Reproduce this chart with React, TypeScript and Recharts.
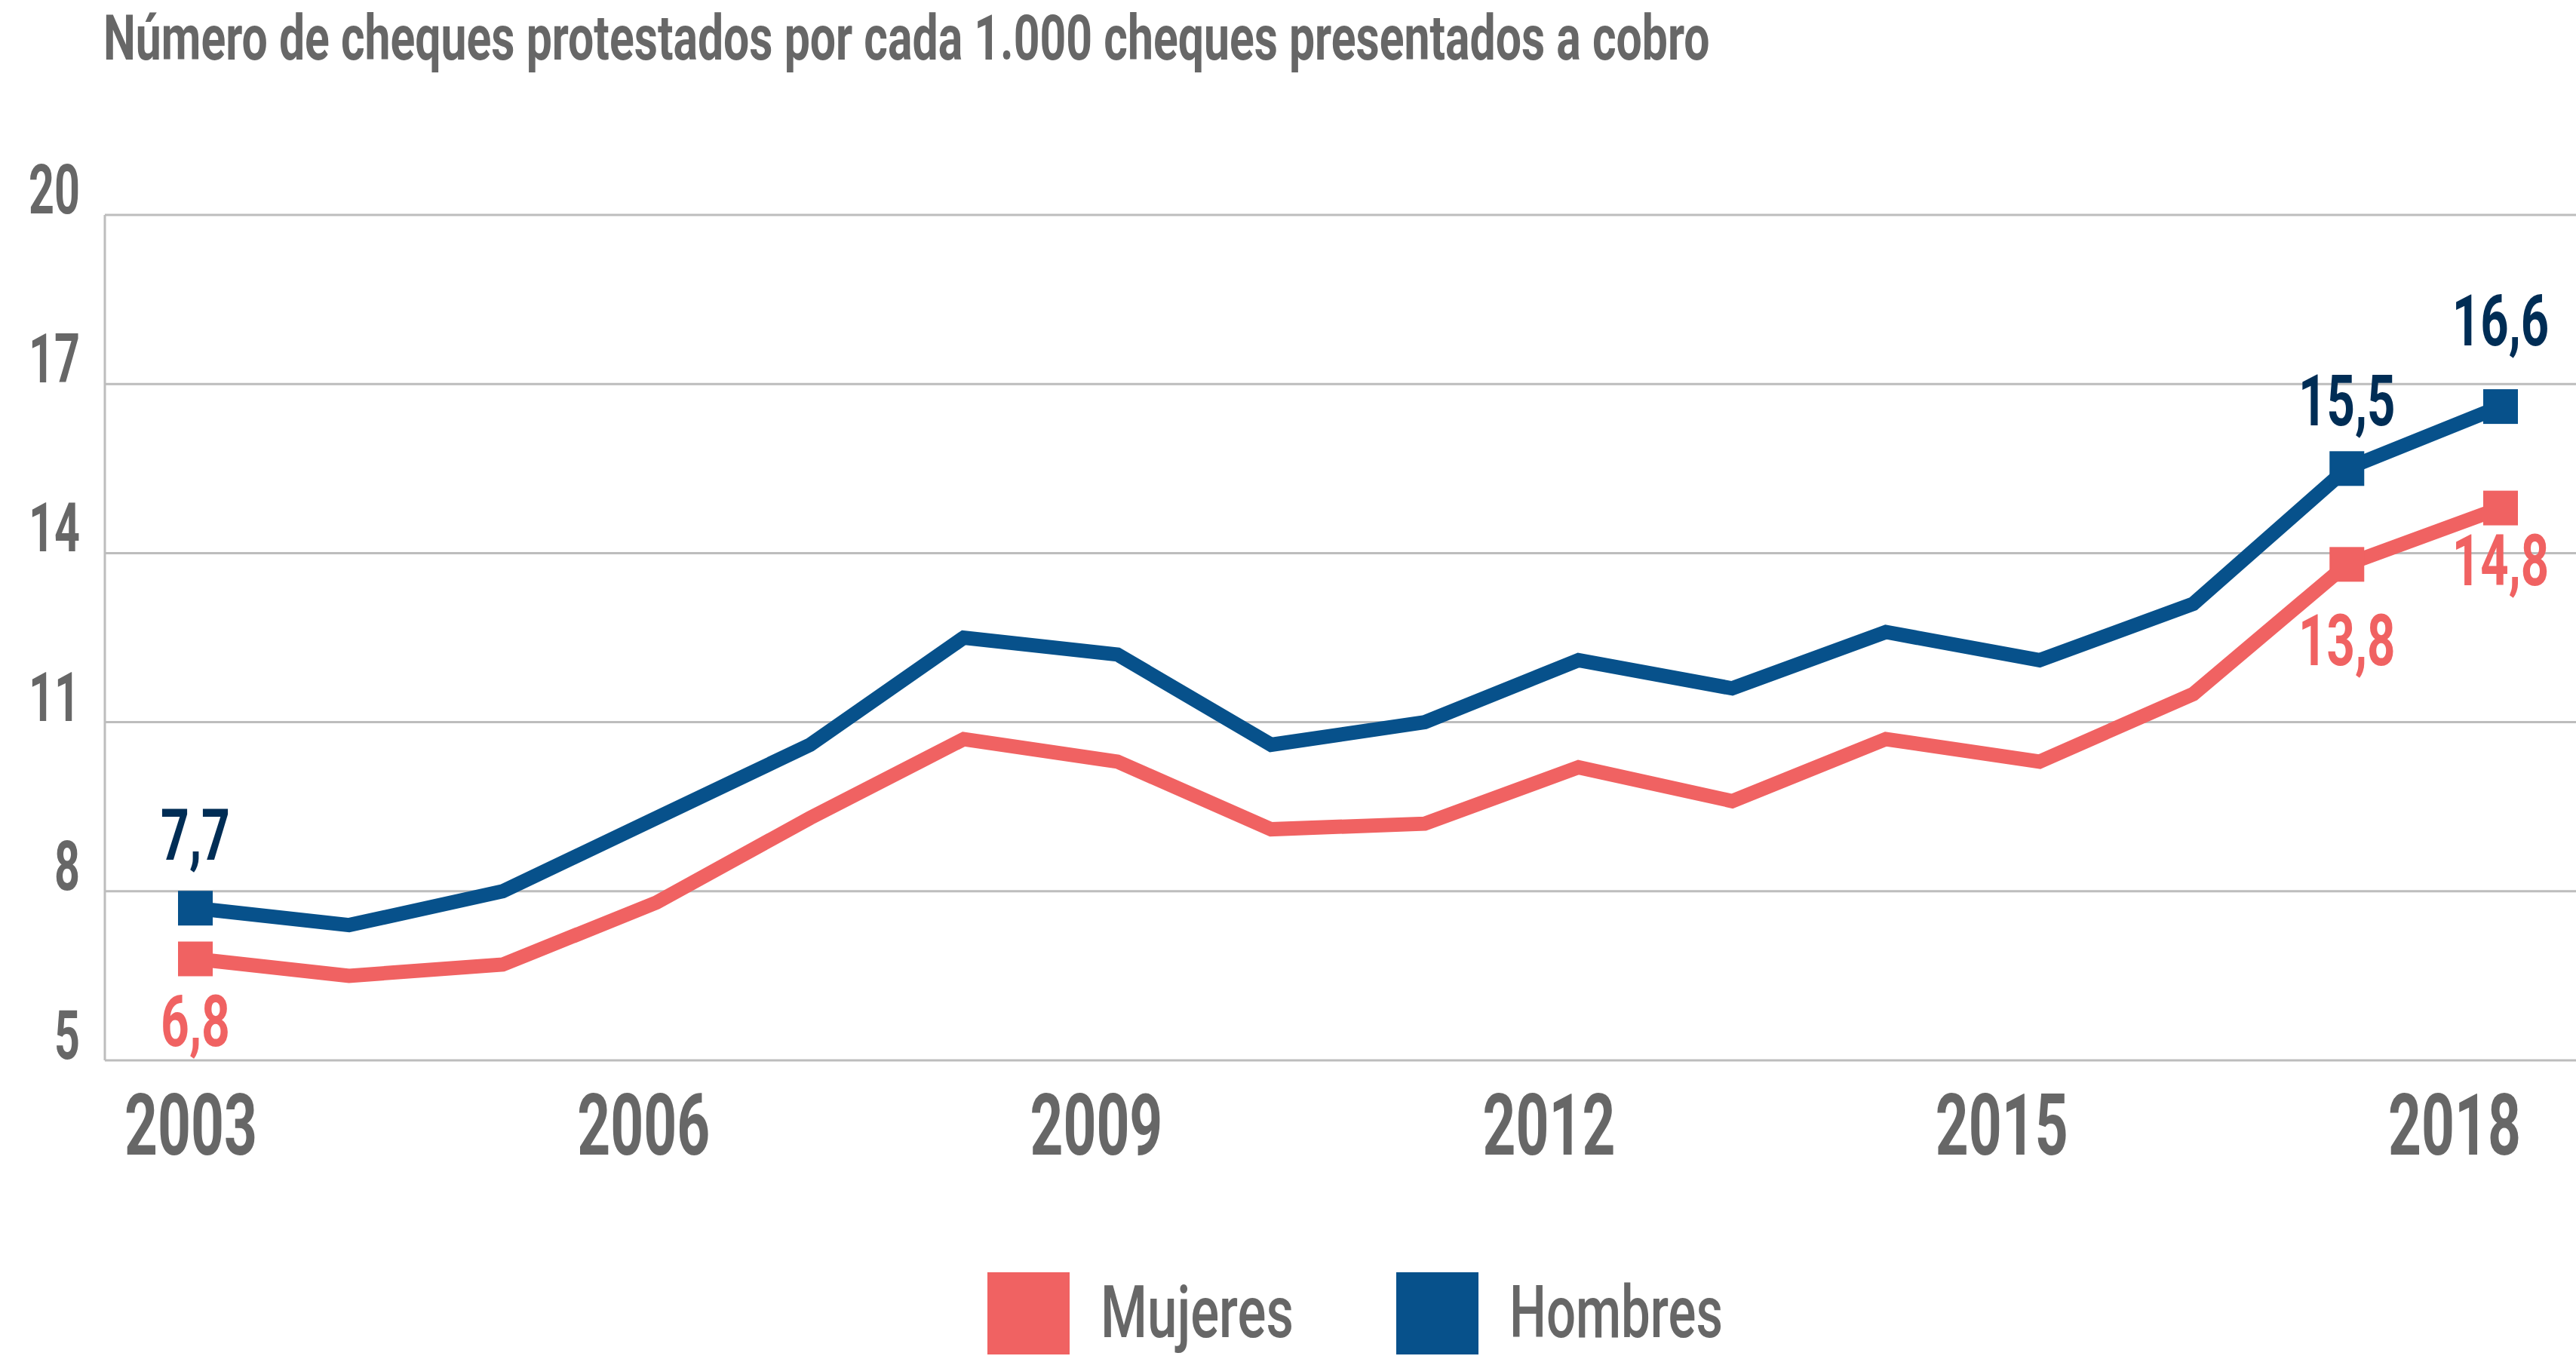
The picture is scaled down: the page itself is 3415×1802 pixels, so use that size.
import React from 'react';
import { LineChart, Line, XAxis, YAxis, CartesianGrid, LabelList, Legend } from 'recharts';

// ---------- data ----------
const years = [2003, 2004, 2005, 2006, 2007, 2008, 2009, 2010, 2011, 2012, 2013, 2014, 2015, 2016, 2017, 2018];
const mujeres = [6.8, 6.5, 6.7, 7.8, 9.3, 10.7, 10.3, 9.1, 9.2, 10.2, 9.6, 10.7, 10.3, 11.5, 13.8, 14.8];
const hombres = [7.7, 7.4, 8.0, 9.3, 10.6, 12.5, 12.2, 10.6, 11.0, 12.1, 11.6, 12.6, 12.1, 13.1, 15.5, 16.6];
const yTicks = [5, 8, 11, 14, 17, 20];
const xTicks = [2003, 2006, 2009, 2012, 2015, 2018];
const labeledYears = [2003, 2017, 2018];
const seriesNames = ['Mujeres', 'Hombres'];
const title = 'Número de cheques protestados por cada 1.000 cheques presentados a cobro';

const data = years.map((year, i) => ({ year, mujeres: mujeres[i], hombres: hombres[i] }));

// ---------- style ----------
const FONT = "Roboto, 'Noto Sans', sans-serif";
const GRAY = '#676767';
const GRID = '#bdbdbd';
const RED = '#F06262';
const BLUE = '#07518B';
const NAVY = '#002D55';
const W = 3415;
const H = 1802;

const fmt = (v: number) => v.toFixed(1).replace('.', ',');
const numLen = (s: string, digit: number, comma: number) =>
  s.split('').reduce((acc, ch) => acc + (ch === ',' || ch === '.' ? comma : digit), 0);

// measure natural text width so it can be condensed with a real transform
let measureCtx: CanvasRenderingContext2D | null = null;
const measure = (text: string, size: number, weight: number): number => {
  try {
    if (!measureCtx) measureCtx = document.createElement('canvas').getContext('2d');
    if (measureCtx) {
      measureCtx.font = `${weight} ${size}px Roboto, 'Noto Sans', sans-serif`;
      const w = measureCtx.measureText(text).width;
      if (w > 0) return w;
    }
  } catch (e) {
    // ignore
  }
  return text.length * size * 0.52;
};

type CondProps = {
  x: number;
  y: number;
  text: string;
  width: number;
  size: number;
  weight: number;
  fill: string;
  anchor?: 'start' | 'middle' | 'end';
};

const Condensed = ({ x, y, text, width, size, weight, fill, anchor = 'start' }: CondProps) => {
  const sx = width / measure(text, size, weight);
  return (
    <text
      transform={`translate(${x} ${y}) scale(${sx} 1)`}
      x={0}
      y={0}
      textAnchor={anchor}
      fill={fill}
      fontSize={size}
      fontWeight={weight}
      fontFamily={FONT}
    >
      {text}
    </text>
  );
};

// label baseline offsets relative to marker centre (layout only)
const labelDy: Record<string, Record<number, number>> = {
  hombres: { 2003: -64, 2017: -57, 2018: -81 },
  mujeres: { 2003: 116, 2017: 134, 2018: 102 },
};

const makeDot = (color: string) => (props: any) => {
  const { cx, cy, payload, index } = props;
  if (!payload || !labeledYears.includes(payload.year) || cx == null || cy == null) {
    return <g key={`e-${color}-${index}`} />;
  }
  return <rect key={`d-${color}-${index}`} x={cx - 23} y={cy - 23} width={46} height={46} fill={color} />;
};

const makeLabel = (key: string, color: string) => (props: any) => {
  const { x, y, value, index } = props;
  const year = years[index];
  if (!labeledYears.includes(year) || x == null || y == null) return null;
  const t = fmt(Number(value));
  return (
    <g key={`l-${key}-${index}`}>
      <Condensed
        x={x}
        y={y + labelDy[key][year]}
        text={t}
        width={numLen(t, 36.5, 19)}
        size={94}
        weight={700}
        fill={color}
        anchor="middle"
      />
    </g>
  );
};

const YTick = (props: any) => {
  const { x, y, payload } = props;
  const t = String(payload.value);
  return <Condensed x={x} y={y - 2} text={t} width={t.length * 34} size={90} weight={700} fill={GRAY} anchor="end" />;
};

// the year labels in the original sit on a slightly tighter spacing than the points
const X_LABEL_SHIFT = -6;
const X_LABEL_SQUEEZE = 3.67;

const XTick = (props: any) => {
  const { x, y, payload } = props;
  const year = Number(payload.value);
  const t = String(year);
  return (
    <Condensed
      x={x + X_LABEL_SHIFT - (year - years[0]) * X_LABEL_SQUEEZE}
      y={y + 125}
      text={t}
      width={t.length * 44}
      size={114}
      weight={700}
      fill={GRAY}
      anchor="middle"
    />
  );
};

const legendX = [1309, 1851];
const legendTextLen = [256, 283];
const LEGEND_H = 130;
const LEGEND_PAD = 21;

const LegendContent = (props: any) => {
  const payload = (props.payload || []).slice().sort(
    (a: any, b: any) => seriesNames.indexOf(a.value) - seriesNames.indexOf(b.value)
  );
  return (
    <svg width={W} height={LEGEND_H} style={{ display: 'block' }}>
      {payload.map((p: any, i: number) => (
        <g key={`lg-${i}`}>
          <rect x={legendX[i]} y={LEGEND_PAD} width={109} height={109} fill={p.color} />
          <Condensed
            x={legendX[i] + 150}
            y={LEGEND_PAD + 86}
            text={String(p.value)}
            width={legendTextLen[i]}
            size={96}
            weight={500}
            fill={GRAY}
          />
        </g>
      ))}
    </svg>
  );
};

export default function App() {
  return (
    <div style={{ position: 'absolute', left: 0, top: 0, width: W, height: H, background: '#fff', overflow: 'hidden' }}>
      <svg width={W} height={120} style={{ position: 'absolute', left: 0, top: 0, display: 'block' }}>
        <Condensed x={137} y={79} text={title} width={2130} size={83} weight={700} fill={GRAY} />
      </svg>
      <div style={{ position: 'absolute', left: 0, top: 0 }}>
        <LineChart width={W} height={H} data={data} margin={{ top: 285, right: 0, bottom: 6, left: 0 }}>
          <CartesianGrid horizontal vertical={false} stroke={GRID} strokeWidth={3} />
          <XAxis
            dataKey="year"
            type="number"
            domain={[2003, 2018]}
            ticks={xTicks}
            interval={0}
            padding={{ left: 120, right: 100 }}
            axisLine={false}
            tickLine={false}
            tickSize={0}
            tickMargin={0}
            height={260}
            tick={<XTick />}
          />
          <YAxis
            type="number"
            domain={[5, 20]}
            ticks={yTicks}
            interval={0}
            width={139}
            axisLine={{ stroke: GRID, strokeWidth: 3 }}
            tickLine={false}
            tickSize={0}
            tickMargin={33}
            tick={<YTick />}
          />
          <Legend verticalAlign="bottom" content={<LegendContent />} />
          <Line
            name={seriesNames[0]}
            dataKey="mujeres"
            stroke={RED}
            strokeWidth={19}
            strokeLinejoin="miter"
            dot={makeDot(RED)}
            activeDot={false}
            isAnimationActive={false}
          >
            <LabelList dataKey="mujeres" content={makeLabel('mujeres', RED)} />
          </Line>
          <Line
            name={seriesNames[1]}
            dataKey="hombres"
            stroke={BLUE}
            strokeWidth={19}
            strokeLinejoin="miter"
            dot={makeDot(BLUE)}
            activeDot={false}
            isAnimationActive={false}
          >
            <LabelList dataKey="hombres" content={makeLabel('hombres', NAVY)} />
          </Line>
        </LineChart>
      </div>
    </div>
  );
}
